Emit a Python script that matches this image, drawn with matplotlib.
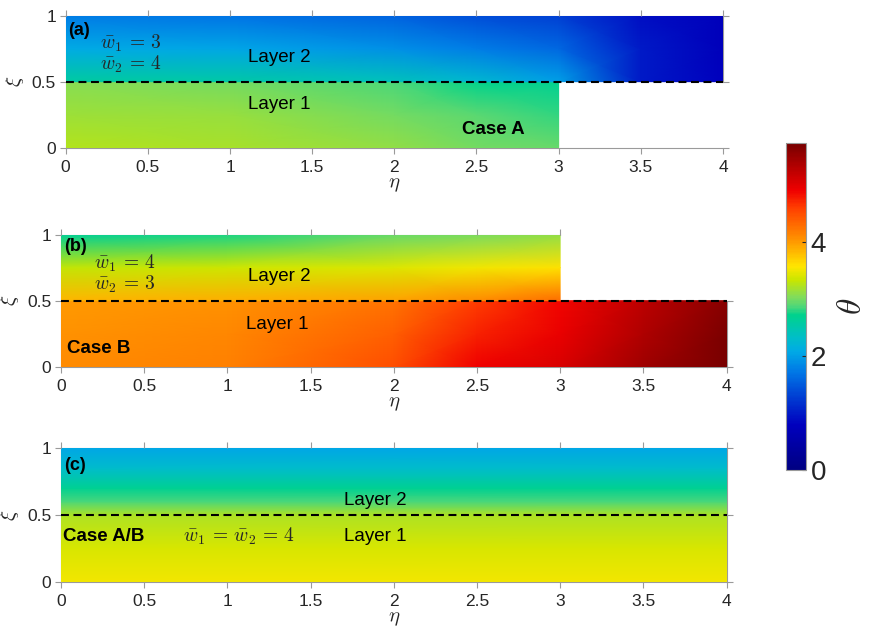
import numpy as np
import matplotlib
import matplotlib.pyplot as plt
from matplotlib.colors import LinearSegmentedColormap
from matplotlib.ticker import FormatStrFormatter

plt.rcParams['font.family'] = ['Liberation Sans', 'DejaVu Sans']
plt.rcParams['mathtext.fontset'] = 'cm'

# grids (eta along the layer, xi across the two layers)
eta_long = [0, 1, 2, 2.5, 3, 3.5, 4]
eta_short = [0, 1, 2, 2.5, 3]
xi_low = [0, 0.25, 0.5]
xi_up = [0.5, 0.75, 1]

# (a) Case A : w1 = 3, w2 = 4  -> layer 1 short, layer 2 long
theta_a1 = [[3.25, 3.20, 3.10, 3.00, 2.95],
            [3.15, 3.12, 3.00, 2.90, 2.82],
            [3.05, 3.00, 2.85, 2.72, 2.68]]
theta_a2 = [[2.60, 2.55, 2.40, 2.25, 2.00, 1.00, 0.80],
            [2.10, 2.05, 1.90, 1.75, 1.60, 1.00, 0.75],
            [1.75, 1.70, 1.55, 1.40, 1.30, 0.90, 0.75]]

# (b) Case B : w1 = 4, w2 = 3  -> layer 1 long, layer 2 short
theta_b1 = [[4.10, 4.17, 4.50, 4.90, 5.05, 5.45, 5.75],
            [4.05, 4.12, 4.38, 4.75, 4.95, 5.35, 5.70],
            [4.00, 4.05, 4.25, 4.60, 4.88, 5.25, 5.62]]
theta_b2 = [[3.85, 3.88, 3.95, 4.10, 4.30],
            [3.30, 3.35, 3.42, 3.50, 3.60],
            [2.65, 2.78, 2.95, 3.02, 3.10]]

# (c) Case A/B : w1 = w2 = 4, uniform along eta
eta_c = [0, 4]
xi_c = [0, 0.25, 0.5, 0.6, 0.7, 0.85, 1]
theta_c = [3.50, 3.40, 3.22, 2.85, 2.68, 2.30, 2.05]

theta_max = 5.74

# colour map (jet like)
cb_pos = [0.0, 0.137, 0.22, 0.30, 0.362, 0.404, 0.474, 0.50, 0.53, 0.58,
          0.622, 0.712, 0.805, 0.855, 1.0]
cb_rgb = [(0, 0, 130), (0, 0, 190), (0, 60, 210), (0, 120, 230), (0, 170, 230),
          (0, 190, 200), (0, 210, 140), (80, 215, 120), (130, 220, 90), (200, 230, 0),
          (255, 230, 0), (255, 140, 0), (255, 60, 0), (240, 0, 0), (120, 0, 0)]
cmap = LinearSegmentedColormap.from_list(
    'jetlike', [(p, tuple(c / 255 for c in rgb)) for p, rgb in zip(cb_pos, cb_rgb)])

fig = plt.figure(figsize=(8.7, 6.29), dpi=100)
ax_a = fig.add_axes([0.0755, 0.7652, 0.7555, 0.2099])
ax_b = fig.add_axes([0.0701, 0.4170, 0.7650, 0.2100])
ax_c = fig.add_axes([0.0701, 0.0752, 0.7650, 0.2120])
cax = fig.add_axes([0.9034, 0.2528, 0.0230, 0.5200])

edge = '#9a9a9a'
txt = '#262626'


def field(ax, eta, xi, theta):
    X, Y = np.meshgrid(eta, xi)
    return ax.pcolormesh(X, Y, np.array(theta), shading='gouraud', cmap=cmap,
                         vmin=0, vmax=theta_max, zorder=1)


def style(ax):
    ax.set_xlim(0, 4)
    ax.set_ylim(0, 1)
    ax.set_xticks(np.arange(0, 4.01, 0.5))
    ax.set_yticks([0, 0.5, 1])
    ax.xaxis.set_major_formatter(FormatStrFormatter('%g'))
    ax.yaxis.set_major_formatter(FormatStrFormatter('%g'))
    ax.tick_params(direction='out', length=4, width=0.8, color=edge, labelcolor=txt,
                   labelsize=12.5, top=True, right=True)
    ax.tick_params(axis='x', pad=5)
    ax.tick_params(axis='y', pad=3)
    for s in ax.spines.values():
        s.set_color(edge)
        s.set_linewidth(0.8)
        s.set_zorder(0)
    ax.set_xlabel(r'$\eta$', fontsize=15, color=txt, labelpad=0)
    ax.set_ylabel(r'$\xi$', fontsize=15, color=txt, labelpad=4)
    ax.axhline(0.5, color='black', linewidth=1.5, dashes=(3.8, 2.2), zorder=3)


# (a)
field(ax_a, eta_short, xi_low, theta_a1)
field(ax_a, eta_long, xi_up, theta_a2)
style(ax_a)
ax_a.spines['right'].set_bounds(0.5, 1)
ax_a.text(0.015, 0.89, '(a)', fontsize=13, fontweight='bold', va='center', ha='left')
ax_a.text(0.21, 0.79, r'$\bar{w}_1\,=\,3$', fontsize=14, va='center', ha='left', color=txt)
ax_a.text(0.21, 0.63, r'$\bar{w}_2\,=\,4$', fontsize=14, va='center', ha='left', color=txt)
ax_a.text(1.30, 0.685, 'Layer 2', fontsize=13.5, va='center', ha='center')
ax_a.text(1.30, 0.33, 'Layer 1', fontsize=13.5, va='center', ha='center')
ax_a.text(2.60, 0.14, 'Case A', fontsize=13.5, fontweight='bold', va='center', ha='center')

# (b)
field(ax_b, eta_long, xi_low, theta_b1)
mesh = field(ax_b, eta_short, xi_up, theta_b2)
style(ax_b)
ax_b.spines['top'].set_bounds(0, 3)
ax_b.spines['right'].set_bounds(0, 0.5)
# ticks hidden where the upper layer is absent
for t in ax_b.xaxis.get_major_ticks()[7:]:
    t.tick2line.set_visible(False)
ax_b.yaxis.get_major_ticks()[2].tick2line.set_visible(False)
ax_b.text(0.02, 0.91, '(b)', fontsize=13, fontweight='bold', va='center', ha='left')
ax_b.text(0.20, 0.78, r'$\bar{w}_1\,=\,4$', fontsize=14, va='center', ha='left', color=txt)
ax_b.text(0.20, 0.62, r'$\bar{w}_2\,=\,3$', fontsize=14, va='center', ha='left', color=txt)
ax_b.text(1.31, 0.68, 'Layer 2', fontsize=13.5, va='center', ha='center')
ax_b.text(1.30, 0.32, 'Layer 1', fontsize=13.5, va='center', ha='center')
ax_b.text(0.035, 0.14, 'Case B', fontsize=13.5, fontweight='bold', va='center', ha='left')

# (c)
theta_c_grid = np.repeat(np.array(theta_c)[:, None], len(eta_c), axis=1)
field(ax_c, eta_c, xi_c, theta_c_grid)
style(ax_c)
ax_c.text(0.02, 0.875, '(c)', fontsize=13, fontweight='bold', va='center', ha='left')
ax_c.text(1.89, 0.61, 'Layer 2', fontsize=13.5, va='center', ha='center')
ax_c.text(1.89, 0.34, 'Layer 1', fontsize=13.5, va='center', ha='center')
ax_c.text(0.015, 0.34, 'Case A/B', fontsize=13.5, fontweight='bold', va='center', ha='left')
ax_c.text(0.735, 0.34, r'$\bar{w}_1\,=\,\bar{w}_2\,=\,4$', fontsize=14, va='center',
          ha='left', color=txt)

# colour bar
cb = fig.colorbar(mesh, cax=cax, ticks=[0, 2, 4])
cb.outline.set_edgecolor(edge)
cb.outline.set_linewidth(0.8)
cax.tick_params(direction='in', length=3, color=txt, labelcolor=txt, labelsize=20)
cb.set_label(r'$\theta$', fontsize=24, color=txt, labelpad=8)

fig.savefig('out.png', dpi=100)
